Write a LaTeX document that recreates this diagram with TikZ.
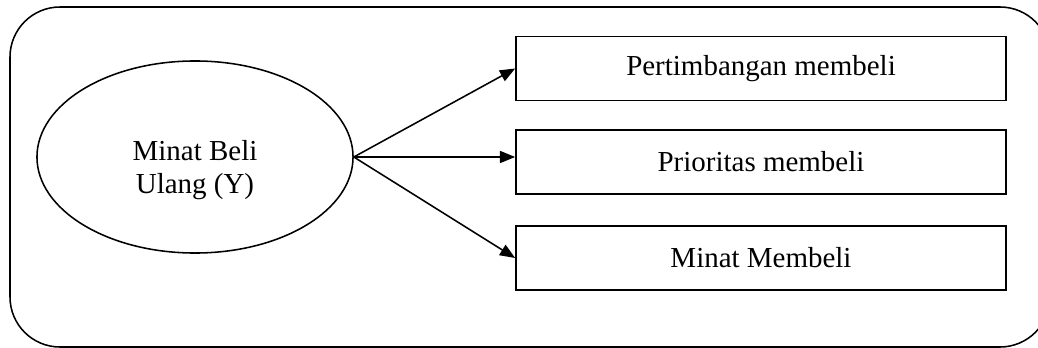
\documentclass[tikz,border=0pt]{standalone}
\usepackage{fontspec}
\setmainfont{Liberation Serif}
\usetikzlibrary{shapes.geometric,arrows.meta}
\tikzset{
  box/.style={draw, minimum width=12.25cm, minimum height=1.6cm, inner sep=0pt},
  oval/.style={draw, ellipse, minimum width=7.9cm, minimum height=4.8cm, inner sep=0pt}
}
\begin{document}
\begin{tikzpicture}[x=0.025cm, y=-0.025cm, line width=1.1pt,
    font=\fontsize{20.6}{23.4}\selectfont]
      \useasboundingbox (0,0) rectangle (1038,348);
      \draw[rounded corners=1.25cm] (10,7) rectangle (1050,347);
      \node[oval] (y) at (195,157) {};
      \node[align=center] (ytext) at (195,170) {Minat Beli\\Ulang (Y)};
      \node[box] (1) at (761,68.5) {Pertimbangan membeli};
      \node[box] (2) at (761,162) {Prioritas membeli};
      \node[box] (3) at (761,258) {Minat Membeli};
      \begin{scope}[-{Triangle[length=0.38cm,width=0.3cm]}]
        \draw (y.east) to (1.west);
        \draw (y.east) to (2.west |- y.east);
        \draw (y.east) to (3.west);
      \end{scope}
    \end{tikzpicture}
\end{document}
